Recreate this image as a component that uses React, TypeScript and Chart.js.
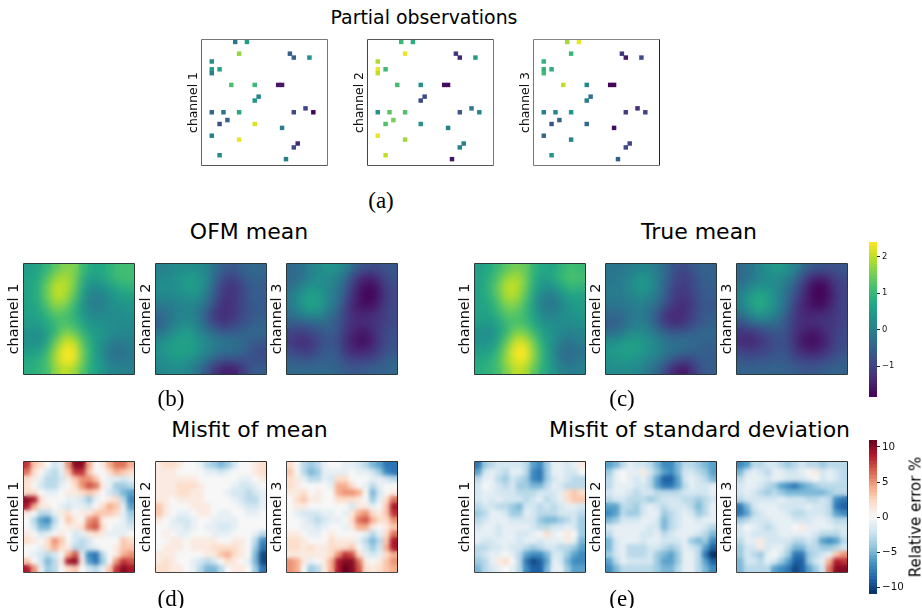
import React, { useEffect, useRef } from "react";
import { Chart, registerables } from "chart.js";

Chart.register(...registerables);

// ---------- observations (grid column / row, 32 x 32 grid) ----------
const obsCols = [8, 11, 9, 22, 23, 27, 2, 2, 2, 4, 7, 13, 19, 20, 14, 13, 2, 5, 9, 23, 26, 28, 6, 4, 13, 20, 2, 9, 24, 23, 4, 21];
const obsRows = [0, 0, 3, 3, 4, 4, 5, 7, 8, 7, 11, 11, 11, 11, 14, 15, 18, 18, 18, 18, 17, 18, 20, 21, 21, 22, 24, 25, 26, 27, 29, 30];
const obsCh1 = [-0.2, 0.55, 1.7, -0.6, -0.5, 0.25, 0.2, 0.5, 0, 0.6, 1.2, 1.0, -1.6, -1.6, 0.05, 0.4, -0.4, -0.2, 0.7, -0.9, -1.0, -1.8, -0.5, -0.8, 2.2, 0, 0, 2.3, -1.4, -0.9, 0.2, 0];
const obsCh2 = [1.0, 0.8, 2.3, -1.2, -1.4, 0.5, 1.9, 2.3, 2.0, 1.0, 1.1, 0.3, -1.7, -1.7, -0.9, -0.9, 0.3, 1.3, 1.2, -0.7, -0.1, 0.1, 1.5, 1.2, 0.3, 0, 2.3, 1.8, -0.1, 0, 2.0, -1.6];
const obsCh3 = [1.8, 2.3, 1.0, -1.2, -1.6, -0.9, 0.9, 0.9, 1.1, 0.8, 2.0, 0.1, -1.8, -1.8, -0.3, -0.1, 0, 0.1, 0.4, -1.1, -1.3, -1.0, -0.5, -0.7, -0.4, -1.7, -0.4, 0.1, -1.0, -0.9, 0.4, -0.5];

// ---------- means ----------
const ofmCh1 = [
  [.5, .6, .9, 1.3, 1.6, 1.6, 1.0, .7, .7, .9, 1.1, 1.1],
  [.6, .7, 1.2, 1.7, 1.9, 1.6, .8, .5, .6, .9, 1.1, 1.1],
  [.6, .8, 1.4, 2.0, 2.0, 1.5, .6, .2, .3, .5, .8, .9],
  [.6, .8, 1.4, 2.0, 1.9, 1.3, .4, 0, 0, .3, .5, .6],
  [.6, .7, 1.2, 1.7, 1.6, 1.0, .3, -.1, 0, .2, .3, .4],
  [.6, .6, .9, 1.3, 1.2, .9, .4, .1, .1, .2, .2, .3],
  [.5, .5, .7, 1.0, 1.2, 1.0, .6, .3, .3, .2, .2, .2],
  [.3, .2, .5, 1.0, 1.6, 1.4, .9, .5, .4, .2, .1, .1],
  [.3, .2, .6, 1.4, 2.1, 2.0, 1.2, .6, .3, 0, -.1, 0],
  [.5, .5, .9, 1.8, 2.4, 2.3, 1.4, .7, .2, -.2, -.3, -.1],
  [.7, .8, 1.1, 1.9, 2.4, 2.3, 1.4, .7, .3, -.1, -.2, -.1],
  [.8, .9, 1.1, 1.7, 2.0, 1.8, 1.2, .7, .4, .1, 0, 0],
];
const ofmCh2 = [
  [0, .1, .2, .2, .2, .1, -.3, -.6, -.7, -.5, -.4, -.4],
  [.1, .2, .3, .5, .4, .2, -.4, -.9, -1.0, -.7, -.5, -.5],
  [.3, .2, .3, .5, .5, .1, -.6, -1.1, -1.2, -.9, -.6, -.6],
  [.1, .1, .2, .3, .3, -.1, -.7, -1.2, -1.2, -.9, -.6, -.6],
  [-.1, -.1, 0, .1, 0, -.3, -.9, -1.3, -1.2, -.9, -.7, -.6],
  [-.4, -.2, 0, .1, -.1, -.6, -1.2, -1.3, -1.2, -.9, -.7, -.6],
  [-.5, -.2, .1, .2, 0, -.5, -1.0, -1.2, -1.0, -.8, -.6, -.5],
  [-.2, .1, .4, .5, .2, -.1, -.4, -.6, -.6, -.5, -.4, -.4],
  [.2, .4, .6, .6, .4, .1, -.1, -.2, -.3, -.4, -.6, -.7],
  [.3, .5, .6, .6, .4, .1, -.1, -.3, -.3, -.5, -.7, -.9],
  [.2, .3, .4, .3, .1, -.2, -.6, -.8, -.8, -.8, -.8, -.8],
  [.1, .2, .2, .1, -.2, -.7, -1.2, -1.5, -1.5, -1.1, -.7, -.6],
];
const ofmCh3 = [
  [-.4, -.3, 0, .2, .4, .3, 0, -.5, -.8, -.9, -.8, -.7],
  [-.4, -.3, 0, .2, .2, 0, -.4, -1.1, -1.4, -1.4, -1.0, -.8],
  [-.3, 0, .3, .3, .1, -.1, -.6, -1.3, -1.7, -1.7, -1.2, -.9],
  [-.1, .3, .6, .5, .1, -.2, -.8, -1.4, -1.8, -1.8, -1.3, -.9],
  [-.1, .3, .6, .5, .1, -.3, -1.0, -1.5, -1.7, -1.6, -1.2, -.9],
  [-.3, 0, .2, .2, -.2, -.5, -1.1, -1.4, -1.4, -1.3, -1.1, -.9],
  [-.6, -.6, -.5, -.4, -.4, -.7, -1.1, -1.3, -1.3, -1.2, -1.1, -.9],
  [-1.0, -1.1, -.9, -.8, -.6, -.7, -1.2, -1.5, -1.6, -1.3, -1.0, -.8],
  [-1.1, -1.3, -1.2, -.9, -.7, -.8, -1.3, -1.6, -1.7, -1.4, -1.0, -.8],
  [-.9, -1.1, -1.1, -.8, -.6, -.7, -1.2, -1.4, -1.4, -1.2, -.9, -.7],
  [-.6, -.7, -.7, -.6, -.5, -.6, -.9, -1.0, -1.0, -.9, -.7, -.5],
  [-.4, -.4, -.4, -.4, -.4, -.5, -.6, -.7, -.6, -.5, -.5, -.4],
];
const trueCh1 = [
  [.5, .7, 1.0, 1.3, 1.5, 1.4, .9, .7, .6, .9, 1.1, 1.0],
  [.6, .8, 1.2, 1.7, 1.9, 1.5, .8, .5, .7, 1.0, 1.2, 1.1],
  [.6, .9, 1.4, 2.0, 2.0, 1.5, .7, .3, .3, .7, 1.0, .9],
  [.6, .8, 1.3, 1.9, 1.9, 1.3, .5, 0, -.1, .3, .6, .6],
  [.6, .7, 1.1, 1.6, 1.6, 1.1, .4, -.1, -.2, .1, .4, .5],
  [.6, .6, .9, 1.3, 1.3, 1.0, .5, .1, 0, .2, .3, .4],
  [.5, .4, .6, 1.0, 1.2, 1.1, .7, .3, .2, .2, .2, .3],
  [.3, .2, .5, 1.0, 1.6, 1.5, 1.0, .5, .3, .1, 0, .1],
  [.3, .3, .6, 1.4, 2.1, 2.1, 1.4, .7, .3, -.1, -.2, 0],
  [.5, .5, .9, 1.7, 2.4, 2.4, 1.6, .8, .2, -.3, -.4, -.2],
  [.7, .8, 1.1, 1.8, 2.3, 2.3, 1.6, .8, .3, -.2, -.3, -.1],
  [.8, .9, 1.1, 1.6, 2.0, 1.9, 1.3, .8, .4, 0, -.1, 0],
];
const trueCh2 = [
  [-.2, -.2, -.1, 0, .1, -.1, -.4, -.8, -.9, -.7, -.5, -.5],
  [-.2, -.1, 0, .3, .3, 0, -.4, -.9, -1.1, -.9, -.6, -.5],
  [-.1, -.1, .1, .4, .4, 0, -.5, -1.0, -1.1, -.9, -.6, -.6],
  [-.1, -.1, 0, .2, .1, -.1, -.6, -1.1, -1.2, -1.0, -.7, -.6],
  [-.2, -.2, -.1, 0, -.1, -.3, -.8, -1.2, -1.3, -1.1, -.7, -.7],
  [-.4, -.4, -.2, -.1, -.2, -.6, -1.2, -1.4, -1.3, -1.0, -.7, -.6],
  [-.6, -.5, -.2, 0, -.1, -.6, -1.1, -1.3, -1.2, -.9, -.7, -.5],
  [-.3, -.2, .1, .2, .1, -.2, -.5, -.7, -.6, -.5, -.4, -.4],
  [.2, .3, .5, .5, .3, .1, -.2, -.3, -.3, -.4, -.5, -.5],
  [.4, .5, .6, .5, .3, .1, -.1, -.3, -.4, -.5, -.5, -.6],
  [.3, .4, .4, .3, .1, -.1, -.4, -.8, -1.0, -.9, -.6, -.6],
  [.2, .2, .2, .1, -.1, -.4, -.9, -1.4, -1.6, -1.2, -.7, -.6],
];
const trueCh3 = [
  [-.4, -.2, .1, .3, .5, .3, 0, -.5, -.7, -.8, -.8, -.7],
  [-.4, -.2, 0, .2, .2, 0, -.4, -1.0, -1.4, -1.4, -1.1, -.9],
  [-.2, .1, .3, .3, .1, -.2, -.7, -1.3, -1.8, -1.8, -1.3, -1.0],
  [0, .5, .7, .5, .1, -.3, -.9, -1.4, -1.8, -1.8, -1.4, -1.0],
  [0, .5, .8, .5, .1, -.4, -1.1, -1.5, -1.7, -1.7, -1.3, -1.0],
  [-.3, .1, .4, .2, -.1, -.6, -1.2, -1.4, -1.4, -1.3, -1.2, -1.0],
  [-.8, -.5, -.3, -.3, -.4, -.8, -1.2, -1.3, -1.3, -1.2, -1.2, -1.0],
  [-1.2, -1.2, -1.0, -.8, -.7, -.8, -1.3, -1.5, -1.6, -1.4, -1.1, -.9],
  [-1.3, -1.4, -1.2, -1.0, -.8, -.9, -1.3, -1.7, -1.7, -1.5, -1.1, -.9],
  [-1.0, -1.1, -1.0, -.9, -.7, -.8, -1.2, -1.4, -1.5, -1.3, -1.0, -.8],
  [-.7, -.8, -.7, -.7, -.6, -.7, -.9, -1.0, -1.0, -.9, -.8, -.6],
  [-.5, -.5, -.5, -.5, -.5, -.5, -.6, -.7, -.7, -.6, -.5, -.5],
];

// ---------- misfit of mean (relative error %) ----------
const misMeanCh1 = [
  [8, 3, 2, 0, -2, -1, 5, 10, 10, 4, 0, 1, 4, 6, 6, 4],
  [6, 2, 0, -2, -3, -1, 3, 8, 8, 3, 0, 0, 2, 4, 3, 2],
  [2, 1, -1, -3, -3, -2, 1, 3, 5, 5, 3, 0, -1, -1, -2, -1],
  [2, 0, -2, -3, -3, -1, 0, 2, 5, 7, 6, 1, -1, -4, -4, -3],
  [2, 2, 0, -1, -1, 0, 1, 1, 2, 3, 2, 0, -2, -3, -5, -6],
  [10, 9, 2, 0, 0, 0, -1, -1, -2, -4, -1, 0, 1, 2, -3, -7],
  [9, 4, 1, 1, 0, -1, -2, -1, -1, -2, 0, 2, 4, 3, -1, -6],
  [1, 0, -3, -3, -1, 1, 2, 0, 1, 1, 3, 3, 3, 2, -1, -4],
  [0, -3, -6, -7, -3, 0, 3, 1, 0, 5, 6, 1, 0, 0, -1, -3],
  [0, -2, -5, -5, -2, 0, 1, 1, 2, 6, 7, 2, 0, -1, -1, -2],
  [1, 0, -2, -1, 0, 1, 0, -2, -1, 1, 2, 1, -1, -1, -1, 0],
  [2, 1, 0, 2, 5, 3, 0, -2, -3, -2, 0, 0, 0, 0, 3, 2],
  [0, 0, -1, 2, 4, 2, 1, -3, -3, -2, -1, 0, 0, 1, 3, 3],
  [0, -1, -2, -3, -2, 0, 4, 7, -1, -7, -8, -3, 0, 1, 4, 5],
  [3, 0, -2, -5, -3, 1, 9, 10, 1, -6, -8, -4, 0, 5, 8, 7],
  [9, 5, -1, -4, -3, 0, 2, 3, 0, -2, -3, -1, 3, 8, 10, 9],
];
const misMeanCh2 = [
  [1, 2, 2, 1, 0, 0, -1, -3, -4, -5, -4, -2, 0, 0, 1, 2],
  [1, 1, 1, 0, 0, 0, 0, -1, -1, -2, -1, 0, 0, 0, 1, 2],
  [1, 1, 1, 1, 1, 1, 0, 0, 0, 0, 0, 0, -1, -1, 0, 1],
  [1, 1, 1, 2, 2, 2, 1, 0, 0, 0, 0, -1, -2, -2, -1, 0],
  [1, 1, 1, 2, 2, 1, 1, 0, 0, 0, -1, -2, -2, -3, -2, -1],
  [1, 1, 0, 1, 1, 1, 1, 0, 0, 0, 0, -1, -2, -3, -3, -1],
  [3, 1, 0, 0, 0, 1, 1, 1, 0, 0, 0, 0, -1, -2, -2, -1],
  [3, 1, 0, -1, -1, 0, 1, 1, 0, -1, -1, 0, 0, -1, -1, 0],
  [1, 0, -1, -2, -2, -1, 0, 0, -1, -1, -1, -1, 0, 0, 0, 0],
  [0, 0, -1, -1, -2, -1, 0, -1, -1, -2, -2, -1, 0, 0, 0, 0],
  [0, 1, 0, -1, -1, 0, 0, 0, -1, -1, -1, 0, 0, 0, -1, -3],
  [0, 0, 1, 1, 0, 1, 1, 1, 1, 0, 0, 1, 1, 0, -3, -7],
  [0, 1, 1, 1, 0, 1, 1, 1, 2, 2, 2, 2, 1, 0, -4, -8],
  [1, 1, 1, 0, 0, 0, 0, 1, 1, 3, 4, 2, 1, 0, -5, -10],
  [1, 2, 1, 0, 0, -1, -2, -3, -2, 0, 2, 1, 0, -1, -5, -10],
  [2, 2, 1, 1, 0, -1, -3, -5, -5, -3, 0, 1, 1, 0, -4, -8],
];
const misMeanCh3 = [
  [2, 0, -3, -4, -3, -1, 0, 0, -1, -1, -2, -3, -5, -6, -8, -8],
  [3, 0, -3, -5, -4, -1, -1, -1, -1, 0, -1, -1, -2, -4, -7, -8],
  [2, 1, -1, -3, -3, -1, -2, 2, 2, 0, 0, 0, -1, -1, -2, -3],
  [2, 1, 0, 0, 0, 0, -1, 4, 4, 2, 0, -1, -3, -1, 0, 0],
  [1, 1, 2, 0, 1, 0, 0, 4, 5, 5, 4, 0, -5, -2, 0, 1],
  [0, 2, 3, 1, 1, 0, 0, 2, 2, 2, 1, 0, -4, -1, 2, 6],
  [0, 1, 1, 0, 0, 0, 0, 0, 0, -2, 1, 1, -1, 0, 3, 9],
  [0, -1, -2, -2, -2, -1, -1, 0, -1, 1, 4, 5, 2, 1, 3, 8],
  [0, 0, -1, -2, -3, -2, -1, -1, 0, 2, 6, 7, 4, 2, 2, 5],
  [0, 0, -1, -1, -2, -1, 0, 0, -1, 1, 4, 4, 1, 0, 1, 3],
  [1, 1, 0, -1, -1, 0, 1, 0, 0, 0, 0, -1, -3, -1, 2, 6],
  [2, 2, 1, 0, 0, 0, 2, 1, 1, 1, -1, -3, -5, -3, 3, 9],
  [2, 2, 1, 2, 1, 1, 2, 2, 2, 3, 0, -2, -4, -2, 4, 9],
  [1, 1, 1, 1, 1, 1, 2, 5, 8, 7, 2, -1, -2, -1, 2, 4],
  [5, 4, 1, -1, 0, 1, 4, 9, 10, 10, 6, 1, 0, 1, 3, 5],
  [5, 4, 0, -4, -3, 1, 4, 9, 11, 10, 7, 2, 1, 2, 3, 4],
];

// ---------- misfit of standard deviation (relative error %) ----------
const misStdCh1 = [
  [-8, -4, -3, -2, -2, -2, -2, -3, -6, -7, -4, -1, -1, -2, -1, 1],
  [-6, -2, -1, -2, -3, -1, -1, -3, -7, -8, -4, -1, -1, -2, -2, 0],
  [-3, -1, -1, -3, -4, -2, -3, -4, -7, -8, -4, -2, -1, -2, -3, -3],
  [-2, 0, -1, -2, -3, -2, -4, -4, -5, -5, -3, -1, -2, -3, -3, -3],
  [-2, -1, -1, -2, -2, -2, -3, -3, -3, -2, -2, -2, -1, 2, 3, 2],
  [-2, -1, -2, -1, -2, -2, -2, -3, -2, -1, -3, -2, -1, 2, 3, 3],
  [-3, -2, -2, -3, -3, -4, -5, -2, -2, -3, -2, -3, -2, -1, -1, -2],
  [-4, -3, -1, -1, -2, -4, -4, -1, -2, -3, -3, -3, -2, -2, -2, -3],
  [-3, -2, -1, -1, -1, -2, -2, -2, -2, -4, -5, -5, -4, -3, -2, -4],
  [-2, -1, -1, -2, -1, -1, -1, -1, -2, -3, -3, -2, -2, -1, -2, -4],
  [-1, -1, -1, -2, -1, -1, -2, -2, -1, 0, 2, -1, 0, 1, 0, -4],
  [-1, -2, -2, -1, -1, -1, -2, -1, -1, -2, -1, -1, -1, 1, -1, -5],
  [-3, -3, -2, -2, -1, -2, -2, -3, -4, -3, -2, -2, -3, -3, -4, -6],
  [-3, -2, -1, -1, 0, -1, -3, -6, -7, -7, -5, -2, -2, -4, -6, -7],
  [-4, -3, -1, 1, 2, 0, -3, -8, -10, -9, -6, -1, -2, -5, -7, -7],
  [-5, -3, -2, -1, 0, -1, -3, -7, -9, -9, -5, -1, -1, -4, -6, -6],
];
const misStdCh2 = [
  [-6, -5, -3, -1, -2, -2, -3, -5, -7, -7, -5, -3, -3, -4, -5, -6],
  [-4, -1, 0, -1, -1, 1, -2, -4, -6, -7, -5, -2, -2, -3, -4, -6],
  [-3, -1, 0, -1, -2, -1, -3, -6, -9, -9, -6, -2, -1, -2, -3, -5],
  [-3, -1, -1, -1, -2, -2, -3, -6, -8, -8, -6, -3, -1, -2, -2, -1],
  [-2, -1, -1, -2, -3, -2, -2, -3, -3, -3, -3, -2, -2, -2, -2, -1],
  [-3, -2, -2, -3, -3, -3, -4, -3, -2, -2, -2, -3, -3, -4, -3, -2],
  [-6, -6, -3, -3, -4, -2, -1, -2, -3, -2, -2, -2, -3, -5, -3, -1],
  [-7, -6, -3, -4, -4, -2, -1, -1, -4, -3, -2, -1, -2, -4, -3, -1],
  [-5, -4, -2, -2, -2, -1, -1, -2, -5, -3, -2, -1, -1, -2, -1, -1],
  [-2, -1, -1, -1, -1, -1, -2, -2, -5, -3, -2, -1, -1, -1, -2, -3],
  [-3, -1, -1, -1, -1, -2, -2, -1, -3, -2, -1, -1, -1, -2, -3, -5],
  [-5, -2, -1, -1, -1, -2, -1, -1, -2, -2, -2, -1, -4, -5, -4, -7],
  [-5, -2, -1, -3, -3, -3, -2, -2, -3, -4, -3, -1, -2, -3, -6, -9],
  [-4, -2, -1, -3, -3, -3, -2, -4, -5, -6, -4, -1, -1, -3, -8, -11],
  [-6, -3, -1, -2, -2, -2, -2, -4, -6, -6, -4, -1, -1, -3, -6, -9],
  [-7, -5, -3, -3, -3, -3, -3, -4, -5, -5, -3, -1, -1, -3, -5, -7],
];
const misStdCh3 = [
  [-7, -6, -3, -3, -2, -2, -3, -4, -3, -2, -3, -3, -4, -3, -3, -3],
  [-5, -2, -1, -2, -3, -1, -1, -2, -2, -1, 0, 1, -2, -1, -2, -3],
  [-3, -1, -1, -1, -2, -1, -1, -2, -2, -2, -1, 0, -2, -1, -2, -3],
  [-2, -1, -1, -2, -3, -4, -6, -7, -8, -6, -5, -4, -3, -3, -3, -3],
  [-2, -1, -2, -3, -4, -3, -4, -5, -5, -5, -5, -5, -5, -4, -3, -3],
  [-3, -2, -2, -2, -2, -2, -1, -2, -2, -2, -3, -3, -2, -3, -7, -8],
  [-8, -5, -2, -1, -1, -1, -2, -2, -2, -2, -1, -2, -2, -3, -8, -9],
  [-8, -6, -3, -2, -1, -1, -1, -2, -3, -3, -2, -2, -2, -3, -6, -7],
  [-4, -3, -2, -2, -2, -1, -1, -1, -2, -2, -2, -1, -1, -2, -3, -3],
  [-2, 0, -1, -2, -3, -2, -1, -1, 0, 1, -1, -1, -1, -1, -2, -2],
  [-2, -1, -2, -2, -2, -2, -1, -1, -1, -1, -1, -2, -3, -3, -3, -2],
  [-3, -1, -1, 1, -2, -2, -2, -2, -3, -3, -2, -3, -6, -7, -6, -3],
  [-4, -2, -2, 1, -2, -1, -1, -3, -5, -5, -3, -3, -4, -4, -3, -2],
  [-4, -2, -3, -4, -1, 0, -2, -4, -8, -8, -4, -3, -2, -1, 3, 5],
  [-5, -2, -2, -3, -1, -2, -4, -6, -9, -9, -4, -2, -1, 4, 9, 8],
  [-5, -3, -3, -3, -3, -6, -7, -8, -10, -9, -6, -4, -2, 6, 10, 10],
];

// ---------- colour bars ----------
const viridisLevels = [-1.85, -1.7, -1.6, -1.5, -1.4, -1.3, -1.2, -1.1, -1, -.9, -.8, -.7, -.6, -.5, -.4, -.3, -.2, -.1, 0, .1, .2, .3, .4, .5, .6, .7, .8, .9, 1, 1.1, 1.2, 1.3, 1.4, 1.5, 1.6, 1.7, 1.8, 1.9, 2, 2.1, 2.2, 2.3];
const viridisTicks = [-1, 0, 1, 2];
const errorLevels = [-11, -10.5, -10, -9.5, -9, -8.5, -8, -7.5, -7, -6.5, -6, -5.5, -5, -4.5, -4, -3.5, -3, -2.5, -2, -1.5, -1, -.5, 0, .5, 1, 1.5, 2, 2.5, 3, 3.5, 4, 4.5, 5, 5.5, 6, 6.5, 7, 7.5, 8, 8.5, 9, 9.5, 10, 10.5];
const errorTicks = [-10, -5, 0, 5, 10];

const SANS = "'DejaVu Sans', sans-serif";
const SERIF = "'Liberation Serif', serif";
const V_MIN = -1.85, V_MAX = 2.41, E_MIN = -11, E_MAX = 11;

const VIRIDIS = ["#440154", "#482475", "#414487", "#355f8d", "#2a788e", "#21918c", "#22a884", "#44bf70", "#7ad151", "#bddf26", "#fde725"];
const RDBU = ["#053061", "#2166ac", "#4393c3", "#92c5de", "#d1e5f0", "#f7f7f7", "#fddbc7", "#f4a582", "#d6604d", "#b2182b", "#67001f"];

function hexRgb(h: string) {
  return [1, 3, 5].map((i) => parseInt(h.slice(i, i + 2), 16));
}
function colorOf(stops: string[], v: number, lo: number, hi: number) {
  const t = Math.max(0, Math.min(1, (v - lo) / (hi - lo))) * (stops.length - 1);
  const i = Math.min(stops.length - 2, Math.floor(t));
  const a = hexRgb(stops[i]), b = hexRgb(stops[i + 1]), f = t - i;
  return `rgb(${a.map((c, k) => Math.round(c + (b[k] - c) * f)).join(",")})`;
}

type Pt = { x: number; y: number; v: number };

function gridPoints(rows: number[][]): Pt[] {
  const out: Pt[] = [];
  rows.forEach((row, r) => row.forEach((v, c) => out.push({ x: c + 0.5, y: r + 0.5, v })));
  return out;
}
function obsPoints(vals: number[]): Pt[] {
  return vals.map((v, i) => ({ x: obsCols[i] + 0.5, y: obsRows[i] + 0.5, v }));
}

const LABEL_W = 22;
const PAD = 2;

function Heat(props: {
  pts: Pt[]; n: number; stops: string[]; lo: number; hi: number; label: string;
  x: number; y: number; size: number; blur: number; fontSize: number; edges: string[]; labelShift: number;
}) {
  const ref = useRef<HTMLCanvasElement>(null);
  const { pts, n, stops, lo, hi, label, x, y, size, blur, fontSize, edges, labelShift } = props;
  useEffect(() => {
    const cell = size / n;
    const smooth = {
      id: "smooth",
      afterDatasetsDraw(chart: any) {
        if (!blur) return;
        const { ctx, chartArea: a } = chart;
        ctx.save();
        ctx.beginPath();
        ctx.rect(a.left, a.top, a.right - a.left, a.bottom - a.top);
        ctx.clip();
        ctx.filter = `blur(${blur}px)`;
        ctx.drawImage(chart.canvas, 0, 0);
        ctx.restore();
      },
    };
    const frame = {
      id: "frame",
      afterDraw(chart: any) {
        const { ctx, chartArea: a } = chart;
        const l = a.left, r = a.right, t = a.top, b = a.bottom;
        const seg = (c: string, x0: number, y0: number, x1: number, y1: number) => {
          ctx.strokeStyle = c;
          ctx.lineWidth = 1;
          ctx.beginPath();
          ctx.moveTo(x0, y0);
          ctx.lineTo(x1, y1);
          ctx.stroke();
        };
        seg(edges[0], l - 0.5, t - 0.5, r + 0.5, t - 0.5);
        seg(edges[1], r + 0.5, t - 0.5, r + 0.5, b + 0.5);
        seg(edges[2], l - 0.5, b + 0.5, r + 0.5, b + 0.5);
        seg(edges[3], l - 0.5, t - 0.5, l - 0.5, b + 0.5);
      },
    };
    const chart = new Chart(ref.current as HTMLCanvasElement, {
      type: "scatter",
      data: {
        datasets: [{
          data: pts as any,
          pointStyle: "rect",
          pointRadius: cell / Math.SQRT2 + 0.4,
          pointBorderWidth: 0,
          pointBackgroundColor: pts.map((p) => colorOf(stops, p.v, lo, hi)),
          clip: 0,
        } as any],
      },
      options: {
        animation: false,
        responsive: false,
        events: [],
        layout: { autoPadding: false, padding: { left: 0, top: PAD, right: PAD, bottom: PAD } },
        plugins: { legend: { display: false }, tooltip: { enabled: false } },
        scales: {
          x: { type: "linear", display: false, min: 0, max: n },
          y: {
            type: "linear", reverse: true, min: 0, max: n,
            grid: { display: false }, border: { display: false }, ticks: { display: false },
            title: { display: true, text: label, color: "#111", font: { family: SANS, size: fontSize }, padding: { top: labelShift, bottom: 0 } },
            afterFit(s: any) { s.width = LABEL_W; },
          },
        },
      } as any,
      plugins: [smooth, frame],
    });
    return () => chart.destroy();
  }, []);
  return (
    <canvas
      ref={ref}
      width={LABEL_W + size + PAD}
      height={size + 2 * PAD}
      style={{ position: "absolute", left: x - LABEL_W, top: y - PAD }}
    />
  );
}

function ColorBar(props: {
  levels: number[]; ticks: number[]; stops: string[]; lo: number; hi: number;
  x: number; y: number; h: number; fontSize: number;
}) {
  const ref = useRef<HTMLCanvasElement>(null);
  const { levels, ticks, stops, lo, hi, x, y, h, fontSize } = props;
  useEffect(() => {
    const chart = new Chart(ref.current as HTMLCanvasElement, {
      type: "bar",
      data: {
        labels: ["c"],
        // bars are nested: the first dataset is painted last, so each one only shows its own step
        datasets: levels.map((lv, i) => ({
          data: [[lo, levels[i + 1] ?? hi]] as any,
          backgroundColor: colorOf(stops, (lv + (levels[i + 1] ?? hi)) / 2, lo, hi),
          grouped: false,
          barPercentage: 1,
          categoryPercentage: 1,
          borderWidth: 0,
        })) as any,
      },
      options: {
        animation: false,
        responsive: false,
        events: [],
        layout: { autoPadding: false, padding: { left: 0, top: 2, right: 0, bottom: 2 } },
        plugins: { legend: { display: false }, tooltip: { enabled: false } },
        scales: {
          x: { display: false },
          y: {
            type: "linear", position: "right", min: lo, max: hi,
            afterBuildTicks(s: any) { s.ticks = ticks.map((value) => ({ value })); },
            border: { display: false },
            grid: { drawOnChartArea: false, drawTicks: true, tickLength: 3, color: "#222", lineWidth: 1 },
            ticks: {
              color: "#111", padding: 2, autoSkip: false, maxRotation: 0,
              font: { family: SANS, size: fontSize },
              callback: (v: any) => String(v).replace("-", "\u2212"),
            },
            afterFit(s: any) { s.width = 32; s.paddingTop = 0; s.paddingBottom = 0; },
          },
        },
      } as any,
    });
    return () => chart.destroy();
  }, []);
  return (
    <canvas ref={ref} width={8 + 32} height={h + 4} style={{ position: "absolute", left: x, top: y - 2 }} />
  );
}

function Txt(props: { x: number; y: number; size: number; serif?: boolean; rotate?: boolean; children: string }) {
  const { x, y, size, serif, rotate, children } = props;
  return (
    <div
      style={{
        position: "absolute", left: x, top: y, whiteSpace: "nowrap", lineHeight: 1,
        fontFamily: serif ? SERIF : SANS, fontSize: size, color: "#000",
        transform: `translate(-50%,-50%)${rotate ? " rotate(-90deg)" : ""}`,
      }}
    >
      {children}
    </div>
  );
}

const CH = ["channel 1", "channel 2", "channel 3"];
const EDGE_A = [
  ["#777", "#777", "#555", "#666"],
  ["#555", "#777", "#555", "#444"],
  ["#888", "#222", "#777", "#777"],
];
const EDGE_DARK = ["#2a3a3a", "#2a3a3a", "#2a3a3a", "#2a3a3a"];
const EDGE_LOW = ["#333", "#222", "#444", "#444"];

export default function App() {
  const groupX1 = [24, 156, 287];
  const groupX2 = [475, 606, 737];
  const meanSets = [
    { xs: groupX1, data: [ofmCh1, ofmCh2, ofmCh3] },
    { xs: groupX2, data: [trueCh1, trueCh2, trueCh3] },
  ];
  const misSets = [
    { xs: groupX1, data: [misMeanCh1, misMeanCh2, misMeanCh3] },
    { xs: groupX2, data: [misStdCh1, misStdCh2, misStdCh3] },
  ];
  return (
    <div style={{ position: "fixed", left: 0, top: 0, width: 922, height: 608, background: "#fff", overflow: "hidden" }}>
      <Txt x={424} y={17} size={18.9}>Partial observations</Txt>
      {[obsCh1, obsCh2, obsCh3].map((vals, i) => (
        <Heat key={"a" + i} pts={obsPoints(vals)} n={32} stops={VIRIDIS} lo={V_MIN} hi={V_MAX} label={CH[i]}
          x={[202, 368, 534][i]} y={40} size={125} blur={0} fontSize={12.4} edges={EDGE_A[i]} labelShift={6} />
      ))}
      <Txt x={381} y={200} size={23} serif>(a)</Txt>

      <Txt x={249} y={232} size={22}>OFM mean</Txt>
      <Txt x={699} y={232} size={22}>True mean</Txt>
      {meanSets.map((set, g) => set.data.map((rows, i) => (
        <Heat key={"m" + g + i} pts={gridPoints(rows)} n={12} stops={VIRIDIS} lo={V_MIN} hi={V_MAX} label={CH[i]}
          x={set.xs[i]} y={264} size={110} blur={4} fontSize={14.4} edges={EDGE_DARK} labelShift={4} />
      )))}
      <Txt x={171} y={398} size={23} serif>(b)</Txt>
      <Txt x={622} y={398} size={23} serif>(c)</Txt>
      <ColorBar levels={viridisLevels} ticks={viridisTicks} stops={VIRIDIS} lo={V_MIN} hi={V_MAX} x={869} y={242} h={155} fontSize={8.4} />

      <Txt x={249.5} y={430} size={22}>Misfit of mean</Txt>
      <Txt x={699.5} y={430} size={22}>Misfit of standard deviation</Txt>
      {misSets.map((set, g) => set.data.map((rows, i) => (
        <Heat key={"e" + g + i} pts={gridPoints(rows)} n={16} stops={RDBU} lo={E_MIN} hi={E_MAX} label={CH[i]}
          x={set.xs[i]} y={462} size={110} blur={2.2} fontSize={14.4} edges={EDGE_LOW} labelShift={4} />
      )))}
      <Txt x={171} y={598} size={23} serif>(d)</Txt>
      <Txt x={622} y={598} size={23} serif>(e)</Txt>
      <ColorBar levels={errorLevels} ticks={errorTicks} stops={RDBU} lo={E_MIN} hi={E_MAX} x={869} y={440} h={154} fontSize={10.3} />
      <Txt x={916} y={517} size={15} rotate>Relative error %</Txt>
    </div>
  );
}
